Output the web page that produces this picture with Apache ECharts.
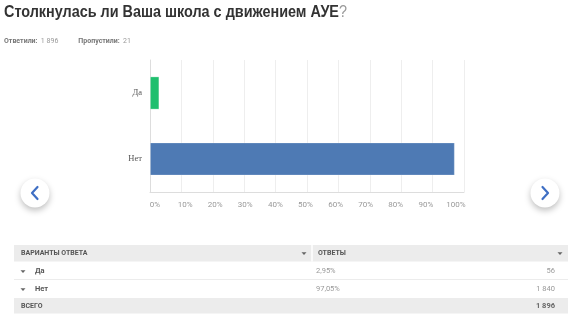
<!DOCTYPE html>
<html>
<head>
<meta charset="utf-8">
<script src="https://cdn.jsdelivr.net/npm/echarts@6/dist/echarts.min.js"></script>
<style>
  html, body { margin: 0; padding: 0; background: #fff; }
  #chart { width: 583px; height: 333px; }
</style>
</head>
<body>
<div id="chart"></div>
<script>
// Survey question: answer options, share of respondents and counts
const questionTitle = 'Столкнулась ли Ваша школа с движением АУЕ';
const answered = '1 896';
const skipped = '21';
const categories = ['Да', 'Нет'];
const percentValues = [2.95, 97.05];
const percentLabels = ['2,95%', '97,05%'];
const countLabels = ['56', '1 840'];
const totalLabel = '1 896';
const barColors = ['#1fbf6e', '#4e7ab4'];
const xTicks = [0, 10, 20, 30, 40, 50, 60, 70, 80, 90, 100];

const chart = echarts.init(document.getElementById('chart'), null, { renderer: 'canvas' });

const tableFont = 'Roboto, "Liberation Sans", sans-serif';
const titleFont = '"Liberation Sans", Arial, sans-serif';
const tableX0 = 14, tableX1 = 568, colX = 312;
const headerY = 245;

function arrow(x, y, color) {
  return {
    type: 'polygon',
    shape: { points: [[x - 2.5, y - 1.3], [x + 2.5, y - 1.3], [x, y + 1.5]] },
    style: { fill: color }
  };
}

function navButton(cx, cy, dir) {
  const d = dir === 'left' ? -1 : 1;
  return [
    {
      type: 'circle',
      shape: { cx: cx, cy: cy, r: 14.5 },
      style: { fill: '#fff', shadowBlur: 6, shadowOffsetY: 3, shadowColor: 'rgba(0,0,0,0.25)' }
    },
    {
      type: 'polyline',
      shape: { points: [[cx - d * 2.5, cy - 6], [cx + d * 3, cy], [cx - d * 2.5, cy + 6]] },
      style: { stroke: '#3f6fc4', lineWidth: 2.2, fill: null, lineCap: 'round', lineJoin: 'round' }
    }
  ];
}

const graphics = [];

// heading and response summary
graphics.push({
  type: 'text', x: 4, y: 5, scaleX: 0.9,
  style: {
    text: '{b|' + questionTitle + '}{q|?}',
    rich: {
      b: { font: 'bold 16px ' + titleFont, fill: '#333' },
      q: { font: '16px ' + titleFont, fill: '#999' }
    }
  }
});
graphics.push({
  type: 'text', x: 4, y: 35,
  style: {
    text: '{l|Ответили:} {v|' + answered + '}      {l|Пропустили:} {v|' + skipped + '}',
    rich: {
      l: { font: 'bold 7px ' + tableFont, fill: '#777' },
      v: { font: '7px ' + tableFont, fill: '#999' }
    }
  }
});

// table backgrounds
graphics.push({ type: 'rect', shape: { x: tableX0, y: headerY, width: tableX1 - tableX0, height: 16.5 }, style: { fill: '#ececec' } });
graphics.push({ type: 'line', shape: { x1: colX, y1: headerY, x2: colX, y2: headerY + 16.5 }, style: { stroke: '#fff', lineWidth: 1.5 } });
graphics.push({ type: 'line', shape: { x1: tableX0, y1: 279.5, x2: tableX1, y2: 279.5 }, style: { stroke: '#ececec', lineWidth: 1 } });
graphics.push({ type: 'rect', shape: { x: tableX0, y: 298, width: tableX1 - tableX0, height: 15.5 }, style: { fill: '#ececec' } });

// header texts
graphics.push({ type: 'text', x: 21, y: 253.5, style: { text: 'ВАРИАНТЫ ОТВЕТА', font: 'bold 7px ' + tableFont, fill: '#555', verticalAlign: 'middle' } });
graphics.push(arrow(304, 253.5, '#666'));
graphics.push({ type: 'text', x: 318, y: 253.5, style: { text: 'ОТВЕТЫ', font: 'bold 7px ' + tableFont, fill: '#555', verticalAlign: 'middle' } });
graphics.push(arrow(560, 253.5, '#666'));

// answer rows
const rowCenters = [271.5, 289.5];
categories.forEach(function (c, i) {
  const y = rowCenters[i];
  graphics.push(arrow(23, y, '#666'));
  graphics.push({ type: 'text', x: 35, y: y, style: { text: c, font: 'bold 7.5px ' + tableFont, fill: '#555', verticalAlign: 'middle' } });
  graphics.push({ type: 'text', x: 316, y: y, style: { text: percentLabels[i], font: '7.5px ' + tableFont, fill: '#999', verticalAlign: 'middle' } });
  graphics.push({ type: 'text', x: 555, y: y, style: { text: countLabels[i], font: '7.5px ' + tableFont, fill: '#999', verticalAlign: 'middle', align: 'right' } });
});
graphics.push({ type: 'text', x: 21, y: 306, style: { text: 'ВСЕГО', font: 'bold 7px ' + tableFont, fill: '#555', verticalAlign: 'middle' } });
graphics.push({ type: 'text', x: 555, y: 306, style: { text: totalLabel, font: 'bold 7.5px ' + tableFont, fill: '#666', verticalAlign: 'middle', align: 'right' } });

// navigation buttons
navButton(35, 193, 'left').forEach(function (g) { graphics.push(g); });
navButton(545, 193, 'right').forEach(function (g) { graphics.push(g); });

chart.setOption({
  animation: false,
  backgroundColor: '#fff',
  grid: [
    { left: 150, right: 119, top: 60, bottom: 141, containLabel: false },
    // tick-label strip, slightly narrower than the plot
    { left: 155, right: 127, top: 60, bottom: 141, containLabel: false }
  ],
  xAxis: [
    {
      type: 'value',
      gridIndex: 0,
      min: xTicks[0],
      max: xTicks[xTicks.length - 1],
      interval: 10,
      axisLine: { show: true, lineStyle: { color: '#ddd' } },
      axisTick: { show: false },
      splitLine: { show: true, lineStyle: { color: '#eee' } },
      axisLabel: { show: false }
    },
    {
      type: 'value',
      gridIndex: 1,
      min: xTicks[0],
      max: xTicks[xTicks.length - 1],
      interval: 10,
      axisLine: { show: false },
      axisTick: { show: false },
      splitLine: { show: false },
      axisLabel: { formatter: '{value}%', color: '#999', fontSize: 8, margin: 9, fontFamily: tableFont }
    }
  ],
  yAxis: [
    {
      type: 'category',
      gridIndex: 0,
      data: categories,
      inverse: true,
      axisLine: { show: true, lineStyle: { color: '#ddd' } },
      axisTick: { show: false },
      axisLabel: { color: '#555', fontSize: 8.5, margin: 8, fontFamily: '"Liberation Serif", "DejaVu Serif", serif' }
    },
    {
      type: 'category',
      gridIndex: 1,
      data: categories,
      show: false
    }
  ],
  series: [{
    type: 'bar',
    xAxisIndex: 0,
    yAxisIndex: 0,
    data: percentValues.map(function (v, i) {
      return { value: v, itemStyle: { color: barColors[i] } };
    }),
    barWidth: '50%',
    itemStyle: { borderColor: 'rgba(255,255,255,0.35)', borderWidth: 0.8 }
  }],
  graphic: graphics
});
</script>
</body>
</html>
